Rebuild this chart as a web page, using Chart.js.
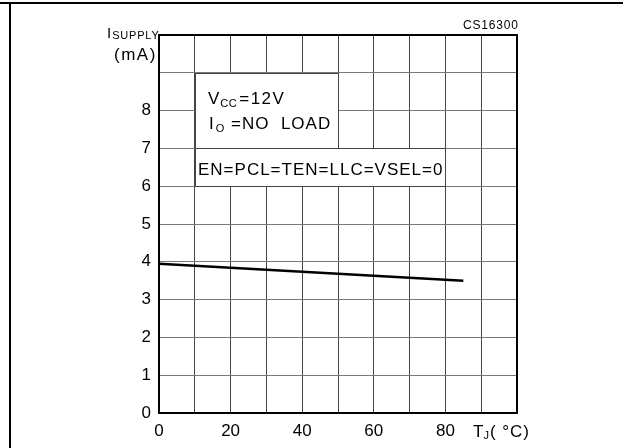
<!DOCTYPE html>
<html>
<head>
<meta charset="utf-8">
<script src="https://cdn.jsdelivr.net/npm/chart.js@4"></script>
<style>
  body { margin: 0; background: #fff; }
  #wrap { width: 623px; height: 448px; position: relative; }
</style>
</head>
<body>
<div id="wrap"><canvas id="chartSupply" width="623" height="448"></canvas></div>
<script>
// Données
const tempTJ = [0, 85];
const supplyMA = [3.95, 3.5];
const xTicksShown = [0, 20, 40, 60, 80];
const yTicksShown = [0, 1, 2, 3, 4, 5, 6, 7, 8];

const FONT = "'Liberation Sans', Arial, sans-serif";

function txt(ctx, s, x, y, size, sp) {
    ctx.font = size + 'px ' + FONT;
    ctx.letterSpacing = (sp || 0) + 'px';
    ctx.fillText(s, x, y);
    return x + ctx.measureText(s).width;
}

// Cadres, boîtes de texte et libellés
const decor = {
    id: 'decor',
    beforeDatasetsDraw(chart) {
        const ctx = chart.ctx;
        const x = chart.scales.x, y = chart.scales.y;
        const boxes = [[10, 50, 7, 9], [10, 80, 6, 7]];
        ctx.save();
        boxes.forEach(b => {
            const l = Math.round(x.getPixelForValue(b[0])) + 0.5;
            const r = Math.round(x.getPixelForValue(b[1])) + 0.5;
            const t = Math.round(y.getPixelForValue(b[3])) + 0.5;
            const bt = Math.round(y.getPixelForValue(b[2])) + 0.5;
            ctx.fillStyle = '#fff';
            ctx.fillRect(l, t, r - l, bt - t);
            ctx.strokeStyle = '#444';
            ctx.lineWidth = 1;
            ctx.strokeRect(l, t, r - l, bt - t);
        });
        ctx.fillStyle = '#000';
        ctx.textBaseline = 'alphabetic';
        let cx = txt(ctx, 'V', 208, 104, 17, 1);
        cx = txt(ctx, 'CC', cx, 107, 11, 0.5);
        txt(ctx, '=12V', cx + 2, 104, 17, 1.5);
        cx = txt(ctx, 'I', 209, 129, 17, 1);
        cx = txt(ctx, 'O', cx + 1, 132, 11, 0);
        txt(ctx, ' =NO  LOAD', cx + 1, 129, 17, 1);
        txt(ctx, 'EN=PCL=TEN=LLC=VSEL=0', 198, 175, 17, 1);
        ctx.restore();
    },
    afterDraw(chart) {
        const ctx = chart.ctx;
        const a = chart.chartArea;
        ctx.save();
        ctx.fillStyle = '#000';
        // cadre extérieur
        ctx.fillRect(0, 2, 623, 2);
        ctx.fillRect(9, 2, 2, 446);
        // haut et droite du tracé
        ctx.fillRect(a.left - 1, a.top - 1, a.right - a.left + 2, 2);
        ctx.fillRect(a.right - 1, a.top - 1, 2, a.bottom - a.top + 2);
        ctx.textBaseline = 'alphabetic';
        let cx = txt(ctx, 'I', 107, 38, 15, 0);
        txt(ctx, 'SUPPLY', cx + 1, 39, 11, 0.8);
        txt(ctx, '(mA)', 114, 60, 17, 1.5);
        cx = txt(ctx, 'CS16300', 463, 29, 12, 0.8);
        cx = txt(ctx, 'T', 473, 437, 17, 0);
        cx = txt(ctx, 'J', cx, 439, 11, 0);
        txt(ctx, '( °C)', cx + 1, 437, 17, 1);
        ctx.restore();
    }
};

new Chart(document.getElementById('chartSupply'), {
    type: 'line',
    data: {
        datasets: [{
            data: tempTJ.map((t, i) => ({ x: t, y: supplyMA[i] })),
            borderColor: '#000',
            borderWidth: 2.5,
            pointRadius: 0,
            tension: 0
        }]
    },
    options: {
        responsive: false,
        animation: false,
        devicePixelRatio: 1,
        layout: { padding: { left: 0, top: 35, right: 106, bottom: 0 } },
        plugins: { legend: { display: false }, tooltip: { enabled: false } },
        scales: {
            x: {
                type: 'linear',
                min: 0,
                max: 100,
                afterFit: s => { s.height = 35; },
                ticks: {
                    stepSize: 10,
                    autoSkip: false,
                    maxRotation: 0,
                    padding: 8,
                    color: '#000',
                    font: { family: FONT, size: 17 },
                    callback: v => xTicksShown.includes(v) ? v : ''
                },
                grid: { color: '#444', lineWidth: 1, drawTicks: false },
                border: { color: '#000', width: 2 }
            },
            y: {
                min: 0,
                max: 10,
                afterFit: s => { s.width = 159; },
                ticks: {
                    stepSize: 1,
                    autoSkip: false,
                    padding: 8,
                    color: '#000',
                    font: { family: FONT, size: 17 },
                    callback: v => yTicksShown.includes(v) ? v : ''
                },
                grid: { color: '#777', lineWidth: 1, drawTicks: false },
                border: { color: '#000', width: 2 }
            }
        }
    },
    plugins: [decor]
});
</script>
</body>
</html>
